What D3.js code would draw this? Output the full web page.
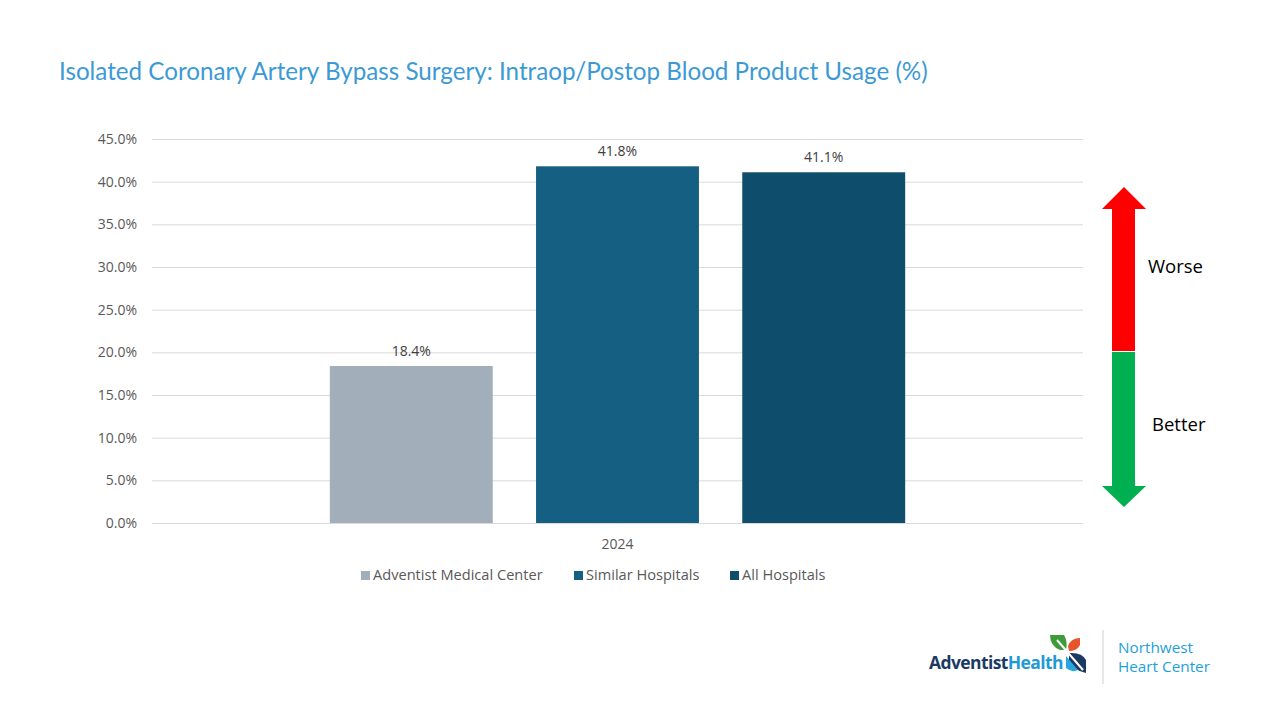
<!DOCTYPE html>
<html>
<head>
<meta charset="utf-8">
<script src="https://cdn.jsdelivr.net/npm/d3@7"></script>
<style>
  body { margin: 0; background: #fff; }
  svg { display: block; }
</style>
</head>
<body>
<script>
// Chart data
const categories = ["2024"];
const seriesNames = ["Adventist Medical Center", "Similar Hospitals", "All Hospitals"];
const seriesValues = [18.4, 41.8, 41.1];
const seriesColors = ["#A2AEB9", "#156082", "#0E4D6B"];
const yTicks = [0, 5, 10, 15, 20, 25, 30, 35, 40, 45];

const width = 1280, height = 720;
const margin = { left: 152, right: 197, top: 139, bottom: 197 };
const labelFont = "'Open Sans', Roboto, sans-serif";

const svg = d3.select("body").append("svg")
    .attr("width", width)
    .attr("height", height);

// Title
svg.append("text")
    .attr("x", 59).attr("y", 80)
    .attr("font-family", "Lato, 'Open Sans', sans-serif")
    .attr("font-size", 24.2)
    .attr("fill", "#3B9AD6")
    .text("Isolated Coronary Artery Bypass Surgery: Intraop/Postop Blood Product Usage (%)");

const y = d3.scaleLinear().domain([0, 45])
    .range([height - margin.bottom, margin.top]);

const x0 = d3.scaleBand().domain(categories)
    .range([margin.left, width - margin.right]);

// inner band: bars occupy the middle ~62% of the category band
const bw = x0.bandwidth();
const x1 = d3.scaleBand().domain(seriesNames)
    .range([bw * 0.191, bw * 0.809])
    .paddingInner(0.21);

// Gridlines + y labels
const yAxis = d3.axisLeft(y)
    .tickValues(yTicks)
    .tickSize(-(width - margin.left - margin.right))
    .tickPadding(15)
    .tickFormat(d => d.toFixed(1) + "%");

const gy = svg.append("g")
    .attr("transform", `translate(${margin.left},0)`)
    .call(yAxis);
gy.select(".domain").remove();
gy.selectAll("line").attr("stroke", "#D9D9D9").attr("stroke-width", 1);
gy.selectAll("text")
    .attr("font-family", labelFont)
    .attr("font-size", 14)
    .attr("fill", "#595959");

// Bars
const group = svg.append("g")
    .attr("transform", `translate(${x0(categories[0])},0)`);

const barData = seriesNames.map((name, i) => ({ name, value: seriesValues[i], color: seriesColors[i] }));

group.selectAll("rect")
    .data(barData)
    .join("rect")
    .attr("x", d => x1(d.name))
    .attr("y", d => y(d.value))
    .attr("width", x1.bandwidth())
    .attr("height", d => y(0) - y(d.value))
    .attr("fill", d => d.color);

group.selectAll("text.lbl")
    .data(barData)
    .join("text")
    .attr("class", "lbl")
    .attr("x", d => x1(d.name) + x1.bandwidth() / 2)
    .attr("y", d => y(d.value) - 10)
    .attr("text-anchor", "middle")
    .attr("font-family", labelFont)
    .attr("font-size", 14)
    .attr("fill", "#404040")
    .text(d => d.value.toFixed(1) + "%");

// X axis category label
svg.append("text")
    .attr("x", x0(categories[0]) + bw / 2)
    .attr("y", 549)
    .attr("text-anchor", "middle")
    .attr("font-family", labelFont)
    .attr("font-size", 14)
    .attr("fill", "#595959")
    .text(categories[0]);

// Legend
const legendX = [361, 574, 730];
const legend = svg.append("g");
seriesNames.forEach((name, i) => {
    legend.append("rect")
        .attr("x", legendX[i]).attr("y", 571)
        .attr("width", 9).attr("height", 9)
        .attr("fill", seriesColors[i]);
    legend.append("text")
        .attr("x", legendX[i] + 12).attr("y", 580)
        .attr("font-family", labelFont)
        .attr("font-size", 14.6)
        .attr("fill", "#595959")
        .text(name);
});

// Worse / Better arrow
const arrow = svg.append("g");
arrow.append("path")
    .attr("d", "M1124,187 L1146,209 L1135,209 L1135,351 L1112,351 L1112,209 L1102,209 Z")
    .attr("fill", "#FF0000");
arrow.append("path")
    .attr("d", "M1112,352 L1135,352 L1135,486 L1146,486 L1124,507 L1102,486 L1112,486 Z")
    .attr("fill", "#00B050");
arrow.append("text")
    .attr("x", 1148).attr("y", 273)
    .attr("font-family", labelFont)
    .attr("font-size", 18.5)
    .attr("fill", "#000")
    .text("Worse");
arrow.append("text")
    .attr("x", 1152).attr("y", 431)
    .attr("font-family", labelFont)
    .attr("font-size", 18.5)
    .attr("fill", "#000")
    .text("Better");

// Logo
const logo = svg.append("g");
const logoText = logo.append("text")
    .attr("x", 929).attr("y", 669)
    .attr("font-family", "'Open Sans', sans-serif")
    .attr("font-weight", 700)
    .attr("font-size", 17.5)
    .attr("letter-spacing", -0.6);
logoText.append("tspan").attr("fill", "#1B3A63").text("Adventist");
logoText.append("tspan").attr("fill", "#1E9AD6").text("Health");

// leaves
logo.append("path")
    .attr("d", "M1050,635 L1064,635 Q1068,642 1066,650 L1060,650 Q1050,646 1050,635 Z")
    .attr("fill", "#3E9B3A");
logo.append("path")
    .attr("d", "M1080,638 L1080,645 Q1077,651 1069,651 L1068,646 Q1071,638 1080,638 Z")
    .attr("fill", "#E8552B");
logo.append("path")
    .attr("d", "M1069,653 Q1082,652 1086,660 L1086,673 Q1072,670 1069,660 Z")
    .attr("fill", "#1B3A63");
logo.append("path")
    .attr("d", "M1066,656 L1078,670 Q1072,673 1066,668 Z")
    .attr("fill", "#29A5DF");
logo.append("line")
    .attr("x1", 1057).attr("y1", 640).attr("x2", 1083).attr("y2", 670)
    .attr("stroke", "#fff").attr("stroke-width", 2);

logo.append("line")
    .attr("x1", 1103).attr("y1", 630).attr("x2", 1103).attr("y2", 684)
    .attr("stroke", "#CFCFCF").attr("stroke-width", 1);

logo.append("text")
    .attr("x", 1118).attr("y", 653)
    .attr("font-family", "'Open Sans', sans-serif")
    .attr("font-size", 15.3)
    .attr("fill", "#1EA0DC")
    .text("Northwest");
logo.append("text")
    .attr("x", 1118).attr("y", 672)
    .attr("font-family", "'Open Sans', sans-serif")
    .attr("font-size", 15.3)
    .attr("fill", "#1EA0DC")
    .text("Heart Center");
</script>
</body>
</html>
